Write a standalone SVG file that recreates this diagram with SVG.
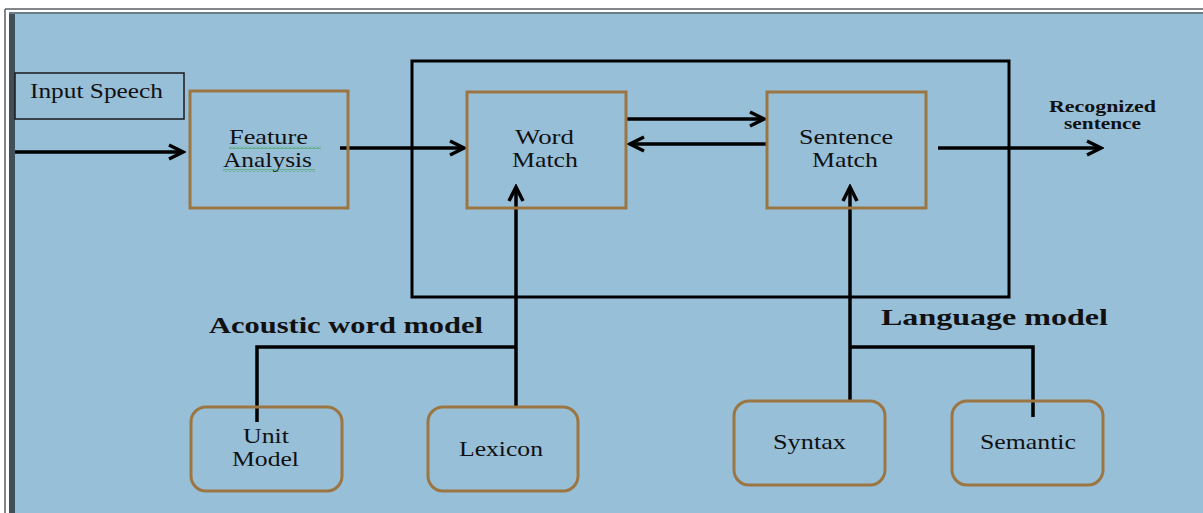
<svg xmlns="http://www.w3.org/2000/svg" width="1203" height="513" viewBox="0 0 1203 513">
  <defs>
    <style>
      .box { fill: none; stroke: #9C7642; stroke-width: 3; }
      .frame { fill: none; stroke: #000; stroke-width: 3; }
      .lbl { font-family: "Liberation Serif", "Times New Roman", serif; font-size: 21px; fill: #111; }
      .bold { font-family: "Liberation Serif", "Times New Roman", serif; font-weight: bold; fill: #111; }
      .conn { fill: none; stroke: #000; stroke-width: 3.5; }
    </style>
    <marker id="arr" markerUnits="userSpaceOnUse" viewBox="-17 -10 20 20" refX="0" refY="0" markerWidth="20" markerHeight="20" orient="auto">
      <path d="M-14,-7 L0,0 L-14,7" fill="none" stroke="#000" stroke-width="3.5"/>
    </marker>
    <pattern id="squig" patternUnits="userSpaceOnUse" width="4" height="3">
      <path d="M0,2.5 L2,0.5 L4,2.5" fill="none" stroke="#2E9A3A" stroke-width="0.9"/>
    </pattern>
  </defs>

  <!-- background / frame -->
  <rect x="0" y="0" width="1203" height="513" fill="#FFFFFF"/>
  <rect x="15" y="13" width="1188" height="500" fill="#98BFD8"/>
  <line x1="5" y1="9" x2="1203" y2="9" stroke="#5A5F64" stroke-width="1.5"/>
  <line x1="5" y1="9" x2="5" y2="513" stroke="#5A5F64" stroke-width="1.5"/>
  <rect x="9" y="12" width="6" height="501" fill="#3F4F5B"/>
  <line x1="9" y1="13" x2="1203" y2="13" stroke="#6B7D89" stroke-width="2"/>

  <!-- big container -->
  <rect x="412" y="61" width="597" height="236" class="frame"/>

  <g id="connectors">
    <line x1="15" y1="152" x2="183" y2="152" class="conn" marker-end="url(#arr)"/>
    <line x1="340" y1="148" x2="464" y2="148" class="conn" marker-end="url(#arr)"/>
    <line x1="626" y1="119" x2="764" y2="119" class="conn" marker-end="url(#arr)"/>
    <line x1="768" y1="144" x2="630" y2="144" class="conn" marker-end="url(#arr)"/>
    <line x1="938" y1="148" x2="1101" y2="148" class="conn" marker-end="url(#arr)"/>
    <line x1="516" y1="407" x2="516" y2="187" class="conn" marker-end="url(#arr)"/>
    <path d="M257,422 V347 H516" class="conn"/>
    <line x1="850" y1="402" x2="850" y2="187" class="conn" marker-end="url(#arr)"/>
    <path d="M850,347 H1033 V417" class="conn"/>
  </g>

  <g id="input-speech">
    <rect x="15" y="73" width="169" height="46" fill="none" stroke="#1A1A1A" stroke-width="1.5"/>
    <text x="30" y="98" class="lbl" textLength="133" lengthAdjust="spacingAndGlyphs">Input Speech</text>
  </g>

  <g id="feature-analysis">
    <rect x="190" y="91" width="158" height="117" class="box"/>
    <text x="229" y="144" class="lbl" textLength="79" lengthAdjust="spacingAndGlyphs">Feature</text>
    <text x="223" y="167" class="lbl" textLength="89" lengthAdjust="spacingAndGlyphs">Analysis</text>
    <rect x="229" y="146" width="92" height="3" fill="url(#squig)"/>
    <rect x="223" y="169" width="92" height="3" fill="url(#squig)"/>
  </g>

  <g id="word-match">
    <rect x="467" y="92" width="159" height="116" class="box"/>
    <text x="515" y="144" class="lbl" textLength="59" lengthAdjust="spacingAndGlyphs">Word</text>
    <text x="512" y="167" class="lbl" textLength="66" lengthAdjust="spacingAndGlyphs">Match</text>
  </g>

  <g id="sentence-match">
    <rect x="767" y="92" width="159" height="116" class="box"/>
    <text x="799" y="144" class="lbl" textLength="94" lengthAdjust="spacingAndGlyphs">Sentence</text>
    <text x="812" y="167" class="lbl" textLength="66" lengthAdjust="spacingAndGlyphs">Match</text>
  </g>

  <g id="recognized-sentence">
    <text x="1049" y="112" class="bold" font-size="16" textLength="107" lengthAdjust="spacingAndGlyphs">Recognized</text>
    <text x="1064" y="129" class="bold" font-size="16" textLength="77" lengthAdjust="spacingAndGlyphs">sentence</text>
  </g>

  <g id="acoustic-word-model">
    <text x="209" y="333" class="bold" font-size="23" textLength="274" lengthAdjust="spacingAndGlyphs">Acoustic word model</text>
  </g>

  <g id="language-model">
    <text x="881" y="325" class="bold" font-size="24" textLength="227" lengthAdjust="spacingAndGlyphs">Language model</text>
  </g>

  <g id="unit-model">
    <rect x="191" y="407" width="151" height="84" rx="15" class="box"/>
    <text x="243" y="443" class="lbl" textLength="46" lengthAdjust="spacingAndGlyphs">Unit</text>
    <text x="232" y="466" class="lbl" textLength="67" lengthAdjust="spacingAndGlyphs">Model</text>
  </g>

  <g id="lexicon">
    <rect x="428" y="407" width="150" height="84" rx="15" class="box"/>
    <text x="459" y="456" class="lbl" textLength="84" lengthAdjust="spacingAndGlyphs">Lexicon</text>
  </g>

  <g id="syntax">
    <rect x="734" y="401" width="151" height="84" rx="15" class="box"/>
    <text x="773" y="449" class="lbl" textLength="73" lengthAdjust="spacingAndGlyphs">Syntax</text>
  </g>

  <g id="semantic">
    <rect x="952" y="401" width="151" height="84" rx="15" class="box"/>
    <text x="980" y="449" class="lbl" textLength="96" lengthAdjust="spacingAndGlyphs">Semantic</text>
  </g>
</svg>
